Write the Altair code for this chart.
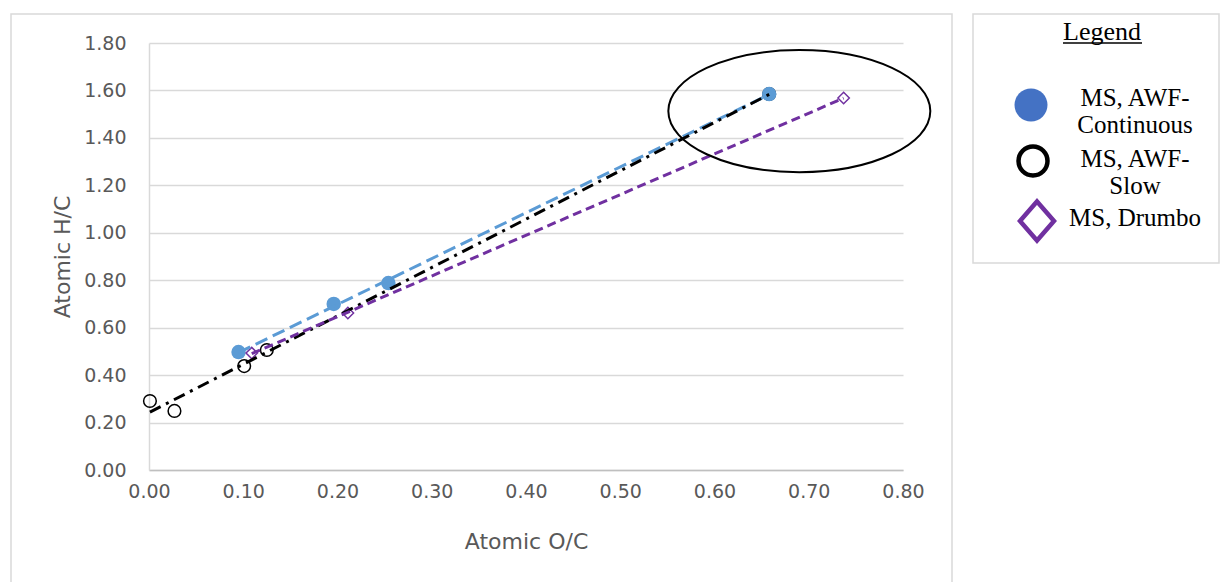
import altair as alt
import pandas as pd

# ---- data ----
cont_oc = [0.095, 0.196, 0.254, 0.658]
cont_hc = [0.497, 0.700, 0.788, 1.585]

# last Slow point sits under the last Continuous marker
slow_oc = [0.001, 0.027, 0.101, 0.125, 0.658]
slow_hc = [0.291, 0.249, 0.438, 0.506, 1.585]

drum_oc = [0.109, 0.211, 0.737]
drum_hc = [0.493, 0.662, 1.568]

x_ticks = [0.0, 0.1, 0.2, 0.3, 0.4, 0.5, 0.6, 0.7, 0.8]
y_ticks = [0.0, 0.2, 0.4, 0.6, 0.8, 1.0, 1.2, 1.4, 1.6, 1.8]

ellipse_center_oc = 0.69
ellipse_center_hc = 1.513

legend_title = "Legend"
legend_labels = ["MS, AWF-\nContinuous", "MS, AWF-\nSlow", "MS, Drumbo"]

BLUE = "#5B9BD5"
BLUE_LEG = "#4472C4"
PURPLE = "#7030A0"
GRID = "#D9D9D9"
AXISC = "#595959"

df_cont = pd.DataFrame({"oc": cont_oc, "hc": cont_hc})
df_slow = pd.DataFrame({"oc": slow_oc, "hc": slow_hc})
df_drum = pd.DataFrame({"oc": drum_oc, "hc": drum_hc})

W, H = 754, 427
PL, PT = 149, 43

xs = alt.Scale(domain=[0, 0.8], nice=False, zero=False)
ys = alt.Scale(domain=[0, 1.8], nice=False, zero=False)
xaxis = alt.Axis(values=x_ticks, format=".2f", title="Atomic O/C", grid=False,
                 ticks=False, tickSize=0, labelPadding=12, titlePadding=30,
                 labelFlush=False, domainColor="#BFBFBF", domainWidth=1.5)
yaxis = alt.Axis(values=y_ticks, format=".2f", title="Atomic H/C", grid=True,
                 ticks=False, tickSize=0, labelPadding=23, titlePadding=9,
                 labelFlush=False, domainColor="#D9D9D9", domainWidth=1.5)
X = alt.X("oc:Q", scale=xs, axis=xaxis)
Y = alt.Y("hc:Q", scale=ys, axis=yaxis)

one = pd.DataFrame({"a": [0]})

# frames
outer = alt.Chart(one).mark_rect(
    fill=None, stroke=GRID, strokeWidth=1.5
).encode(x=alt.value(11 - PL), x2=alt.value(952 - PL),
         y=alt.value(14 - PT), y2=alt.value(620 - PT))
legbox = alt.Chart(one).mark_rect(
    fill=None, stroke=GRID, strokeWidth=1.5
).encode(x=alt.value(973 - PL), x2=alt.value(1219 - PL),
         y=alt.value(14 - PT), y2=alt.value(263 - PT))

# markers
p_slow = alt.Chart(df_slow).mark_point(filled=False, shape="circle", size=160,
                                       color="black", strokeWidth=1.5, opacity=1).encode(x=X, y=Y)
p_cont = alt.Chart(df_cont).mark_point(filled=True, shape="circle", size=210,
                                       color=BLUE, opacity=1).encode(x=X, y=Y)
p_drum = alt.Chart(df_drum).mark_point(filled=False, shape="diamond", size=130,
                                       color=PURPLE, strokeWidth=1.5, opacity=1).encode(x=X, y=Y)

# trendlines (linear regressions)
t_cont = alt.Chart(df_cont).transform_regression("oc", "hc").mark_line(
    color=BLUE, strokeWidth=3, strokeDash=[13, 6]).encode(x=X, y=Y)
t_slow = alt.Chart(df_slow).transform_regression("oc", "hc").mark_line(
    color="black", strokeWidth=3, strokeDash=[12, 6, 3, 6]).encode(x=X, y=Y)
t_drum = alt.Chart(df_drum).transform_regression("oc", "hc").mark_line(
    color=PURPLE, strokeWidth=3, strokeDash=[9, 5]).encode(x=X, y=Y)

# ellipse annotation
ell = alt.Chart(one).mark_point(
    shape="M -1 0 A 1 0.466 0 1 1 1 0 A 1 0.466 0 1 1 -1 0 Z",
    size=262 * 262, filled=False, color="black", strokeWidth=2, opacity=1
).encode(x=alt.datum(ellipse_center_oc), y=alt.datum(ellipse_center_hc))

# legend
SERIF = "Liberation Serif"
leg_t = alt.Chart(one).mark_text(
    text=legend_title, font=SERIF, fontSize=26, color="black", align="center", baseline="middle"
).encode(x=alt.value(1102 - PL), y=alt.value(32 - PT))
leg_u = alt.Chart(one).mark_rule(color="black", strokeWidth=1.5).encode(
    x=alt.value(1063 - PL), x2=alt.value(1142 - PL), y=alt.value(43 - PT))

leg_m1 = alt.Chart(one).mark_point(
    shape="circle", filled=True, size=1089, color=BLUE_LEG, opacity=1
).encode(x=alt.value(1031 - PL), y=alt.value(105 - PT))
leg_m2 = alt.Chart(one).mark_point(
    shape="circle", filled=False, size=841, color="black", strokeWidth=4.5, opacity=1
).encode(x=alt.value(1033 - PL), y=alt.value(161 - PT))
leg_m3 = alt.Chart(one).mark_point(
    shape="M 0 -1.15 L 1 0 L 0 1.15 L -1 0 Z", filled=False, size=1156, color=PURPLE,
    strokeWidth=4.5, opacity=1
).encode(x=alt.value(1037 - PL), y=alt.value(221 - PT))

def legtext(label, yfirst):
    return alt.Chart(one).mark_text(
        text=label, font=SERIF, fontSize=25, color="black", align="center",
        baseline="middle", lineBreak="\n", lineHeight=27
    ).encode(x=alt.value(1135 - PL), y=alt.value(yfirst - PT))

leg_l1 = legtext(legend_labels[0], 98)
leg_l2 = legtext(legend_labels[1], 159)
leg_l3 = legtext(legend_labels[2], 218)

chart = alt.layer(
    outer, legbox, p_slow, p_cont, p_drum, t_cont, t_slow, t_drum, ell,
    leg_t, leg_u, leg_m1, leg_m2, leg_m3, leg_l1, leg_l2, leg_l3
).properties(
    width=W, height=H,
    autosize=alt.AutoSizeParams(type="none"),
    padding={"left": PL, "top": PT, "right": 1221 - PL - W, "bottom": 582 - PT - H},
    background="white"
).configure_view(stroke=None).configure_axis(
    labelFont="DejaVu Sans", labelFontSize=19, labelColor=AXISC,
    titleFont="DejaVu Sans", titleFontSize=22, titleColor=AXISC, titleFontWeight="normal",
    gridColor=GRID, gridWidth=1.5
)

chart.save("out.html", embed_options={"renderer": "svg", "actions": False})
